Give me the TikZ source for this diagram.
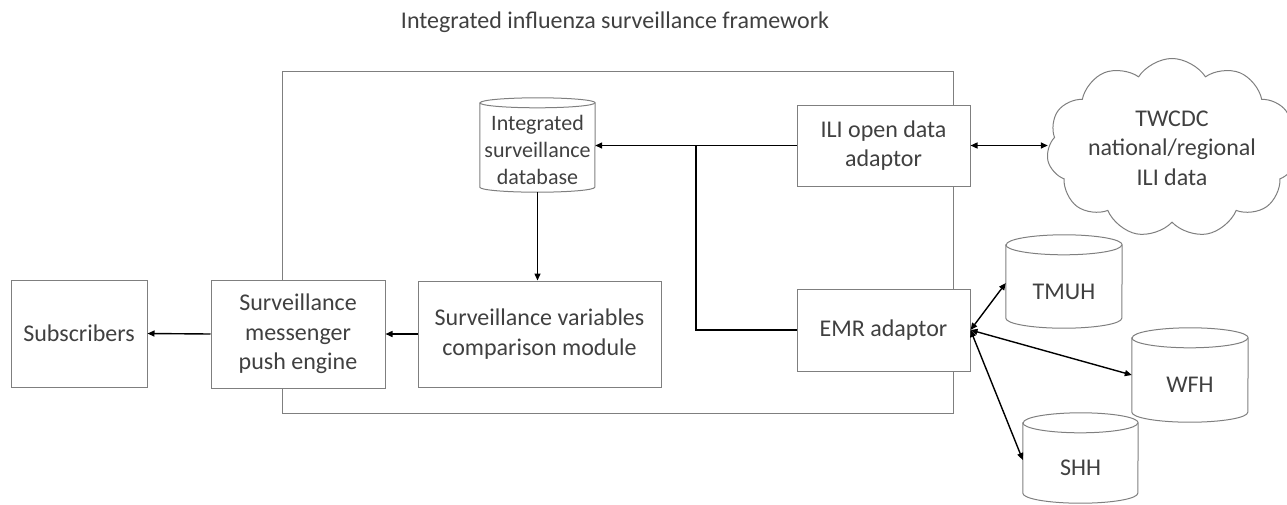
\documentclass[tikz,border=0pt]{standalone}
\usepackage{fontspec}
\setmainfont{Carlito}
\usetikzlibrary{shapes.symbols,arrows.meta,calc}
\definecolor{boxgray}{HTML}{7F7F7F}
\definecolor{txtgray}{HTML}{404040}
\tikzset{
  boxline/.style={draw=boxgray, line width=1pt},
  procbox/.style={boxline, fill=white, text=txtgray, align=center, inner sep=0pt,
     font=\fontsize{24}{29.5}\selectfont},
  cylbody/.style={text=txtgray, align=center, inner sep=0pt,
     font=\fontsize{24}{29.5}\selectfont},
  conn/.style={draw=black, line width=1.4pt},
  arr/.style={conn, -{Triangle[length=7pt,width=6pt]}},
  darr/.style={conn, {Triangle[length=7pt,width=6pt]}-{Triangle[length=7pt,width=6pt]}},
}
\newcommand\drawcyl[2]{%
  \draw[boxline]
    ([yshift=#2]#1.north west) -- ([yshift=#2]#1.south west)
    arc[start angle=180, end angle=360, x radius=0.5*\cylw, y radius=#2]
    -- ([yshift=#2]#1.north east)
    arc[start angle=0, end angle=180, x radius=0.5*\cylw, y radius=#2] -- cycle;
  \draw[boxline] ([yshift=#2]#1.north west)
    arc[start angle=180, end angle=360, x radius=0.5*\cylw, y radius=#2];
}
\begin{document}
\begin{tikzpicture}[x=1pt, y=-1pt]
\useasboundingbox (0,0) rectangle (1287,504);

% title
\node[text=txtgray, font=\fontsize{24}{29}\selectfont, inner sep=0pt] (title) at (615,22)
  {Integrated influenza surveillance framework};

% outer frame
\node[boxline, minimum width=671pt, minimum height=342pt, inner sep=0pt] (frame) at (617.5,242) {};

% boxes
\node[procbox, minimum width=136pt, minimum height=107pt] (subs) at (79,333.5) {Subscribers};
\node[procbox, minimum width=174pt, minimum height=108pt] (push) at (298,334)
  {Surveillance\\messenger\\push engine};
\node[procbox, minimum width=243pt, minimum height=106pt] (comp) at (539.5,334)
  {Surveillance variables\\comparison module};
\node[procbox, minimum width=173pt, minimum height=81pt] (ili) at (883.5,145.5)
  {ILI open data\\adaptor};
\node[procbox, minimum width=173pt, minimum height=82pt] (emr) at (883.5,330)
  {EMR adaptor};

% database cylinder
\def\cylw{115pt}
\node[cylbody, minimum width=115pt, minimum height=84pt,
  font=\fontsize{22}{26.7}\selectfont] (db) at (537.5,150)
  {Integrated\\surveillance\\database};
\drawcyl{db}{5pt}

% hospital cylinders
\def\cylw{116pt}
\node[cylbody, minimum width=116pt, minimum height=73pt] (tmuh) at (1064,291.5) {TMUH};
\drawcyl{tmuh}{10pt}
\node[cylbody, minimum width=116pt, minimum height=74pt] (wfh) at (1190,385) {WFH};
\drawcyl{wfh}{10pt}
\def\cylw{115pt}
\node[cylbody, minimum width=115pt, minimum height=70pt] (shh) at (1080.5,468) {SHH};
\drawcyl{shh}{10pt}

% cloud
\node[boxline, cloud, cloud puffs=11, cloud puff arc=115, aspect=1.6,
  minimum width=218pt, minimum height=138pt, inner sep=0pt,
  text=txtgray, align=center, font=\fontsize{24}{29.5}\selectfont] (cloud) at (1172,148)
  {TWCDC\\national/regional\\ILI data};

% connectors
\coordinate (jn) at (696,145.5);
\draw[arr] (ili.west) -- (ili.west -| db.east);
\draw[conn] (emr.west) -| (jn);
\draw[arr] (db.south) -- (comp.north -| db.south);
\draw[arr] (comp.west) -- (push.east);
\draw[arr] (push.west) -- (subs.east);
\draw[darr] (ili.east) -- (ili.east -| cloud.west);
\draw[darr] (emr.east) -- ([yshift=8.5pt]tmuh.west);
\draw[darr] (emr.east) -- ([yshift=10pt]wfh.west);
\draw[darr] (emr.east) -- ([yshift=8pt]shh.west);
\end{tikzpicture}
\end{document}
